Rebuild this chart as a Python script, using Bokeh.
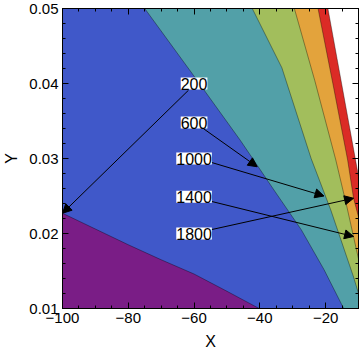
from bokeh.plotting import figure
from bokeh.models import (Range1d, LinearAxis, FixedTicker, CustomJSTickFormatter,
                          Arrow, NormalHead, LabelSet, ColumnDataSource)
from bokeh.core.properties import value
from bokeh.embed import file_html
from bokeh.resources import INLINE

# axis extents
X_MIN, X_MAX = -100, -10
Y_MIN, Y_MAX = 0.01, 0.05

# contour boundaries (level: x points, y points)
b200_x = [-100, -90, -80, -70, -60, -50, -40.2]
b200_y = [0.0227, 0.0206, 0.0185, 0.0165, 0.0146, 0.0123, 0.0100]
b600_x = [-75.0, -60.2, -45.9, -40.8, -35.4, -27.4, -20.5, -14.5]
b600_y = [0.0500, 0.0411, 0.0324, 0.0291, 0.0256, 0.0205, 0.0152, 0.0100]
b1000_x = [-42.3, -33.3, -24.4, -18.4, -11.5, -10.0]
b1000_y = [0.0500, 0.0421, 0.0300, 0.0231, 0.0142, 0.0120]
b1400_x = [-29.5, -23.3, -16.9, -13.5, -10.0]
b1400_y = [0.0500, 0.0404, 0.0298, 0.0235, 0.0166]
b1800_x = [-22.3, -17.8, -13.3, -11.5, -10.0]
b1800_y = [0.0500, 0.0400, 0.0298, 0.0247, 0.0222]
b2200_x = [-19.3, -15.1, -10.9, -10.0]
b2200_y = [0.0500, 0.0399, 0.0298, 0.0276]

region_colors = ["#7A1D86", "#4058C9", "#52A0A8", "#A2BE5C", "#E3A33C", "#DB2B26", "#FFFFFF"]

# contour labels and arrows
label_text = ["200", "600", "1000", "1400", "1800"]
label_x = [-60, -60, -60, -60, -60]
label_y = [0.0400, 0.0348, 0.0300, 0.0249, 0.0200]
arrow_x0 = [-61.7, -57.2, -54.9, -54.9, -54.9]
arrow_y0 = [0.0391, 0.0340, 0.0295, 0.0243, 0.0205]
arrow_x1 = [-100.0, -40.8, -20.5, -11.5, -11.5]
arrow_y1 = [0.0227, 0.0289, 0.0250, 0.0196, 0.0247]

x_ticks = [-100, -80, -60, -40, -20]
y_ticks = [0.01, 0.02, 0.03, 0.04, 0.05]

p = figure(width=360, height=352, output_backend="svg", toolbar_location=None,
           x_range=Range1d(X_MIN, X_MAX), y_range=Range1d(Y_MIN, Y_MAX),
           min_border_left=57, min_border_right=2, min_border_top=8, min_border_bottom=43,
           x_axis_label="X", y_axis_label="Y")
p.xgrid.visible = False
p.ygrid.visible = False
p.outline_line_color = "black"
p.background_fill_color = "white"

# region polygons: each lies to the upper-right of its boundary
polys_x = [
    [X_MIN, X_MAX, X_MAX, X_MIN],
    b200_x + [X_MAX, X_MAX, X_MIN],
    b600_x + [X_MAX, X_MAX],
    b1000_x + [X_MAX],
    b1400_x + [X_MAX],
    b1800_x + [X_MAX],
    b2200_x + [X_MAX],
]
polys_y = [
    [Y_MIN, Y_MIN, Y_MAX, Y_MAX],
    b200_y + [Y_MIN, Y_MAX, Y_MAX],
    b600_y + [Y_MIN, Y_MAX],
    b1000_y + [Y_MAX],
    b1400_y + [Y_MAX],
    b1800_y + [Y_MAX],
    b2200_y + [Y_MAX],
]
p.patches(polys_x, polys_y, fill_color=region_colors, line_color=None)

bx = [b200_x, b600_x, b1000_x, b1400_x, b1800_x, b2200_x]
by = [b200_y, b600_y, b1000_y, b1400_y, b1800_y, b2200_y]
p.multi_line(bx, by, line_color="black", line_alpha=0.45, line_width=0.8)

asrc = ColumnDataSource(dict(x0=arrow_x0, y0=arrow_y0, x1=arrow_x1, y1=arrow_y1))
p.add_layout(Arrow(x_start="x0", y_start="y0", x_end="x1", y_end="y1", source=asrc,
                   line_color="black", line_width=1,
                   end=NormalHead(size=9, fill_color="black", line_color="black")))

lsrc = ColumnDataSource(dict(x=label_x, y=label_y, t=label_text))
p.add_layout(LabelSet(x="x", y="y", text="t", source=lsrc, text_align="center",
                      text_baseline="middle", text_font=value("Liberation Sans"),
                      text_font_size=value("16px"), text_color="black",
                      background_fill_color="white", background_fill_alpha=1.0))

xfmt = CustomJSTickFormatter(code="return (tick < 0 ? '\\u2212' : '') + Math.abs(tick).toFixed(0);")
yfmt = CustomJSTickFormatter(code="return tick.toFixed(2);")
blank = CustomJSTickFormatter(code="return '';")
x_minor = [X_MIN + 5 * i for i in range(19)]
y_minor = [round(Y_MIN + 0.002 * i, 4) for i in range(21)]

def style(ax):
    ax.axis_line_color = "black"
    ax.major_tick_line_color = "black"
    ax.minor_tick_line_color = "black"
    ax.major_tick_in = 6
    ax.major_tick_out = 0
    ax.minor_tick_in = 3
    ax.minor_tick_out = 0
    ax.major_label_text_font = "Liberation Sans"
    ax.major_label_text_font_size = "15px"
    ax.major_label_text_color = "black"
    ax.axis_label_text_font = "Liberation Sans"
    ax.axis_label_text_font_size = "16px"
    ax.axis_label_text_font_style = "normal"
    ax.axis_label_text_color = "black"

for ax in p.xaxis:
    ax.ticker = FixedTicker(ticks=x_ticks, minor_ticks=x_minor)
    ax.formatter = xfmt
    ax.major_label_standoff = 4
    ax.axis_label_standoff = 7
    style(ax)
for ax in p.yaxis:
    ax.ticker = FixedTicker(ticks=y_ticks, minor_ticks=y_minor)
    ax.formatter = yfmt
    ax.major_label_standoff = 4
    ax.axis_label_standoff = 6
    style(ax)

top = LinearAxis(ticker=FixedTicker(ticks=x_ticks, minor_ticks=x_minor), formatter=blank)
right = LinearAxis(ticker=FixedTicker(ticks=y_ticks, minor_ticks=y_minor), formatter=blank)
for ax in (top, right):
    style(ax)
    ax.major_label_standoff = 0
p.add_layout(top, "above")
p.add_layout(right, "right")

open("out.html", "w").write(file_html(p, INLINE))
